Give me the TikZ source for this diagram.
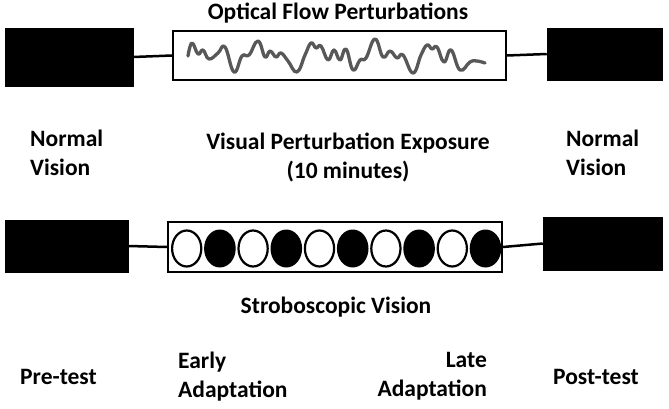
\documentclass[tikz,border=0pt]{standalone}
\usepackage{fontspec}
\setmainfont{Carlito}
\definecolor{wavegray}{RGB}{88,88,88}
\begin{document}
\begin{tikzpicture}[x=1pt,y=-1pt,
  blk/.style={draw=black,fill=black,inner sep=0pt,line width=0.5pt},
  frame/.style={draw=black,fill=white,line width=2pt,inner sep=0pt},
  conn/.style={line width=2.5pt},
  wave/.style={draw=wavegray,line width=3.3pt,line join=round,line cap=round},
  lbl/.style={font=\fontsize{23.5}{29}\selectfont\bfseries,inner sep=0pt},
]
\useasboundingbox (0,0) rectangle (669,409);

% top row
\node[blk,minimum width=128pt,minimum height=58pt] (tl) at (69,57) {};
\node[frame,minimum width=333pt,minimum height=49pt] (tm) at (339.5,55.5) {};
\node[blk,minimum width=115pt,minimum height=52pt] (tr) at (604.5,54) {};
\draw[conn] (tl.east) -- (tm.west);
\draw[conn] (tm.east) -- (tr.west);
\draw[wave] plot[smooth,tension=0.75] coordinates {
 (188,56) (192,43) (198,54) (203,50) (209,59) (218,53) (225,47) (234,72)
 (242,56) (249,55) (258,41) (265,57) (270,51) (276,57) (281,53) (288,61)
 (297,72) (305,55) (311,43) (316,48) (321,46) (328,60) (334,50) (340,60)
 (346,49) (353,70) (360,60) (366,58) (375,39) (383,57) (390,51) (397,58)
 (403,55) (413,73) (421,55) (427,45) (432,49) (437,47) (444,62) (451,50)
 (460,70) (470,62) (477,61) (485,63)};

% bottom row
\node[blk,minimum width=123pt,minimum height=52pt] (bl) at (66.5,246) {};
\node[frame,minimum width=334pt,minimum height=50pt] (bm) at (335,247) {};
\node[blk,minimum width=119pt,minimum height=53pt] (br) at (602.5,243.5) {};
\draw[conn] (bl.east) -- (bm.west);
\draw[conn] (bm.east) -- (br.west);
\foreach \i [evaluate=\i as \cx using 186.7+33.2*\i] in {0,...,9} {
  \ifodd\i
    \fill[black] (\cx,248.5) ellipse [x radius=15.8pt, y radius=19pt];
  \else
    \draw[line width=2.2pt,fill=white] (\cx,248.5) ellipse [x radius=14.6pt, y radius=18pt];
  \fi
}

% labels
\node[lbl,anchor=base] (t1) at (338,20) {Optical Flow Perturbations};
\node[lbl,align=left,anchor=north west] (nvl) at (30,130) {Normal\\Vision};
\node[lbl,align=center,anchor=north] (vpe) at (348,133) {Visual Perturbation Exposure\\(10 minutes)};
\node[lbl,align=left,anchor=north west] (nvr) at (566,130) {Normal\\Vision};
\node[lbl,anchor=base] (sv) at (336,313) {Stroboscopic Vision};
\node[lbl,anchor=base west] (pre) at (20,384) {Pre-test};
\node[lbl,align=left,anchor=north west] (ea) at (178,352) {Early\\Adaptation};
\node[lbl,align=right,anchor=north east] (la) at (487,352) {Late\\Adaptation};
\node[lbl,anchor=base west] (post) at (553,384) {Post-test};
\end{tikzpicture}
\end{document}
